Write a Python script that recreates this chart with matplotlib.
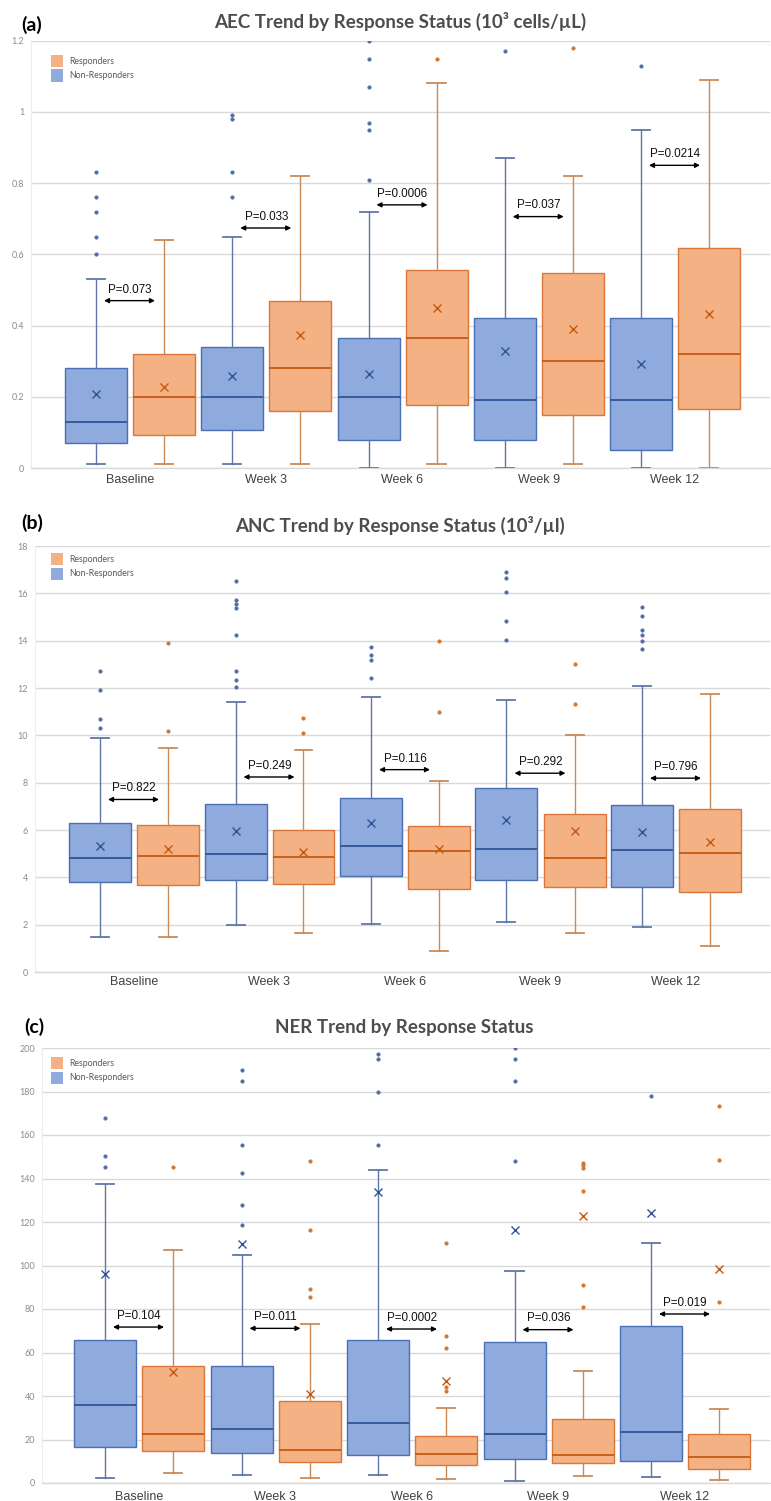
import matplotlib
matplotlib.use('Agg')
import matplotlib.pyplot as plt
from matplotlib.patches import Rectangle

# ---------------- DATA ----------------
categories = ['Baseline', 'Week 3', 'Week 6', 'Week 9', 'Week 12']

# box stats per time point: (whislo, q1, median, q3, whishi, mean)
aec_nr_box = [(0.01, 0.07, 0.13, 0.28, 0.53, 0.207),
              (0.01, 0.108, 0.20, 0.341, 0.65, 0.257),
              (0.00, 0.079, 0.20, 0.364, 0.72, 0.263),
              (0.00, 0.08, 0.19, 0.42, 0.87, 0.328),
              (0.00, 0.05, 0.19, 0.42, 0.95, 0.292)]
aec_r_box = [(0.01, 0.094, 0.20, 0.319, 0.64, 0.228),
             (0.01, 0.159, 0.28, 0.47, 0.82, 0.373),
             (0.01, 0.178, 0.365, 0.556, 1.08, 0.45),
             (0.01, 0.15, 0.30, 0.548, 0.82, 0.39),
             (0.00, 0.165, 0.319, 0.617, 1.09, 0.433)]
aec_nr_out = [[0.83, 0.76, 0.72, 0.65, 0.60],
              [0.99, 0.98, 0.83, 0.76],
              [1.20, 1.15, 1.07, 0.97, 0.95, 0.81],
              [1.17],
              [1.13]]
aec_r_out = [[], [], [1.15], [1.18], []]
aec_p = ['P=0.073', 'P=0.033', 'P=0.0006', 'P=0.037', 'P=0.0214']
aec_arrow_y = [0.47, 0.674, 0.739, 0.706, 0.85]

anc_nr_box = [(1.5, 3.81, 4.82, 6.31, 9.9, 5.32),
              (2.0, 3.90, 5.0, 7.11, 11.42, 5.97),
              (2.04, 4.04, 5.34, 7.36, 11.6, 6.31),
              (2.11, 3.90, 5.20, 7.79, 11.49, 6.42),
              (1.90, 3.61, 5.15, 7.05, 12.1, 5.91)]
anc_r_box = [(1.5, 3.67, 4.90, 6.21, 9.47, 5.18),
             (1.63, 3.71, 4.86, 6.0, 9.38, 5.07),
             (0.90, 3.51, 5.13, 6.18, 8.09, 5.21),
             (1.63, 3.60, 4.82, 6.67, 10.0, 5.96),
             (1.10, 3.40, 5.04, 6.87, 11.73, 5.48)]
anc_nr_out = [[12.72, 11.9, 10.69, 10.31],
              [16.53, 15.73, 15.53, 15.4, 14.22, 12.72, 12.32, 12.06],
              [13.72, 13.41, 13.2, 12.42],
              [16.92, 16.63, 16.06, 14.83, 14.01],
              [15.42, 15.03, 14.44, 14.23, 13.99, 13.66]]
anc_r_out = [[13.92, 10.2], [10.72, 10.11], [14.0, 10.99], [13.03, 11.32], []]
anc_p = ['P=0.822', 'P=0.249', 'P=0.116', 'P=0.292', 'P=0.796']
anc_arrow_y = [7.29, 8.24, 8.55, 8.40, 8.19]

ner_nr_box = [(2.1, 16.5, 35.8, 65.7, 137.7, 96.2),
              (3.7, 13.6, 24.9, 54.0, 104.9, 109.9),
              (3.7, 12.8, 27.5, 65.9, 144.1, 133.6),
              (0.9, 11.2, 22.5, 65.0, 97.6, 116.5),
              (2.6, 9.9, 23.5, 72.0, 110.2, 124.0)]
ner_r_box = [(4.7, 14.7, 22.5, 54.0, 107.0, 50.9),
             (2.4, 9.5, 15.4, 37.5, 72.9, 40.7),
             (1.7, 8.4, 13.5, 21.7, 34.6, 47.1),
             (3.1, 9.2, 13.0, 29.4, 51.4, 122.6),
             (1.5, 6.6, 11.8, 22.5, 34.1, 98.5)]
ner_nr_out = [[167.9, 150.2, 145.2],
              [189.9, 185.0, 155.3, 142.3, 127.6, 118.6],
              [197.4, 195.0, 180.0, 155.3],
              [200.0, 195.0, 185.0, 148.2],
              [177.9]]
ner_r_out = [[145.2],
             [148.2, 116.2, 89.3, 85.6],
             [110.2, 67.6, 62.1, 44.0, 42.2],
             [147.2, 146.1, 144.9, 134.4, 91.1, 81.0],
             [173.3, 148.5, 83.0]]
ner_p = ['P=0.104', 'P=0.011', 'P=0.0002', 'P=0.036', 'P=0.019']
ner_arrow_y = [71.7, 71.1, 70.8, 70.5, 77.7]

# ---------------- STYLE ----------------
W, H = 771, 1501
BLUE_FILL, BLUE_EDGE, BLUE_DARK = '#8FAADC', '#4A6FB5', '#2F5597'
OR_FILL, OR_EDGE, OR_DARK = '#F4B183', '#D9783A', '#C55A11'
GRID = '#D9D9D9'

fig = plt.figure(figsize=(W / 100, H / 100), dpi=100)
fig.patch.set_facecolor('white')


def fx(px):
    return px / W


def fy(py):
    return 1 - py / H


def make_stats(boxes, outs):
    st = []
    for (lo, q1, med, q3, hi, mean), fl in zip(boxes, outs):
        st.append(dict(whislo=lo, q1=q1, med=med, q3=q3, whishi=hi,
                       mean=mean, fliers=fl))
    return st


panels = [
    dict(label='(a)', title='AEC Trend by Response Status (10³ cells/µL)',
         nr=(aec_nr_box, aec_nr_out), r=(aec_r_box, aec_r_out),
         p=aec_p, ay=aec_arrow_y, ylim=(0, 1.2), step=0.2,
         ticklabels=['0', '0.2', '0.4', '0.6', '0.8', '1', '1.2'],
         L=31, T=40.7, R=770, B=468, C0=130, S=136.25,
         title_xy=(400, 21), label_xy=(21, 25), leg_top=55, xlab_off=10),
    dict(label='(b)', title='ANC Trend by Response Status (10³/µl)',
         nr=(anc_nr_box, anc_nr_out), r=(anc_r_box, anc_r_out),
         p=anc_p, ay=anc_arrow_y, ylim=(0, 18), step=2,
         ticklabels=[str(v) for v in range(0, 19, 2)],
         L=35, T=546, R=770, B=972, C0=134, S=135.5,
         title_xy=(400, 525), label_xy=(21, 523), leg_top=553, xlab_off=9),
    dict(label='(c)', title='NER Trend by Response Status',
         nr=(ner_nr_box, ner_nr_out), r=(ner_r_box, ner_r_out),
         p=ner_p, ay=ner_arrow_y, ylim=(0, 200), step=20,
         ticklabels=[str(v) for v in range(0, 201, 20)],
         L=42, T=1048, R=770, B=1483, C0=139, S=136.5,
         title_xy=(404, 1028), label_xy=(24, 1027), leg_top=1057, xlab_off=12),
]

for pn in panels:
    L, T, R, B, C0, S = pn['L'], pn['T'], pn['R'], pn['B'], pn['C0'], pn['S']
    ax = fig.add_axes([fx(L), fy(B), (R - L) / W, (B - T) / H])
    ax.set_xlim((L - C0) / S, (R - C0) / S)
    ax.set_ylim(*pn['ylim'])
    n = len(categories)
    off = 34 / S
    bw = 62 / S
    cw = 18 / S
    groups = [(pn['nr'], -off, BLUE_FILL, BLUE_EDGE, BLUE_DARK, '#5E77A6', '#4F6EA8'),
              (pn['r'], off, OR_FILL, OR_EDGE, OR_DARK, '#C98A58', '#D0762F')]
    for (boxes, outs), o, fc, ec, dk, wc, flc in groups:
        ax.bxp(make_stats(boxes, outs),
               positions=[i + o for i in range(n)], widths=bw, capwidths=cw,
               showmeans=True, patch_artist=True, manage_ticks=False,
               boxprops=dict(facecolor=fc, edgecolor=ec, linewidth=1.0),
               medianprops=dict(color=dk, linewidth=1.3),
               whiskerprops=dict(color=wc, linewidth=1.0),
               capprops=dict(color=wc, linewidth=1.3),
               flierprops=dict(marker='o', markersize=2.6, markerfacecolor=flc,
                               markeredgecolor=flc, markeredgewidth=0.3,
                               linestyle='none'),
               meanprops=dict(marker='x', markersize=6, markeredgecolor=dk,
                              markeredgewidth=1.0, linestyle='none'),
               zorder=3)
    # annotations
    ymax = pn['ylim'][1]
    for i, (ptxt, y) in enumerate(zip(pn['p'], pn['ay'])):
        ax.annotate('', xy=(i + 25 / S, y), xytext=(i - 26 / S, y),
                    arrowprops=dict(arrowstyle='<|-|>', color='black', lw=1.0,
                                    mutation_scale=7, shrinkA=0, shrinkB=0),
                    zorder=5)
        ax.text(i, y + ymax * 0.012, ptxt, ha='center', va='bottom',
                fontsize=8.4, family='Liberation Sans', color='#111111', zorder=5)
    # axes styling
    ticks = [pn['step'] * k for k in range(len(pn['ticklabels']))]
    ax.set_yticks(ticks)
    ax.set_yticklabels(pn['ticklabels'], fontsize=6.5, color='#8C8C8C',
                       family='Lato')
    ax.tick_params(axis='y', length=0, pad=5)
    ax.set_xticks(range(n))
    ax.set_xticklabels(categories, fontsize=9, color='#404040',
                       family='Liberation Sans')
    ax.tick_params(axis='x', length=0, pad=pn['xlab_off'] - 6)
    ax.grid(axis='y', color=GRID, linewidth=1.0, zorder=0)
    ax.set_axisbelow(True)
    for sp in ['top', 'right']:
        ax.spines[sp].set_visible(False)
    ax.spines['left'].set_color('#EDEDED')
    ax.spines['bottom'].set_color(GRID)
    ax.spines['bottom'].set_linewidth(1.0)
    # titles
    fig.text(fx(pn['title_xy'][0]), fy(pn['title_xy'][1]), pn['title'],
             ha='center', va='center', fontsize=13.5, fontweight='bold',
             color='#4D4D4D', family='Lato')
    fig.text(fx(pn['label_xy'][0]), fy(pn['label_xy'][1]), pn['label'],
             ha='left', va='center', fontsize=14, fontweight='bold',
             color='#000000', family='Lato')
    # legend
    lt = pn['leg_top']
    for j, (name, col) in enumerate([('Responders', OR_FILL),
                                      ('Non-Responders', BLUE_FILL)]):
        top = lt + j * 14.5
        fig.patches.append(Rectangle((fx(51), fy(top + 12)), 12 / W, 12 / H,
                                     transform=fig.transFigure,
                                     facecolor=col, edgecolor='none'))
        fig.text(fx(69), fy(top + 6), name, ha='left', va='center',
                 fontsize=6.3, color='#595959', family='Lato')

fig.savefig('out.png', dpi=100, facecolor='white')
